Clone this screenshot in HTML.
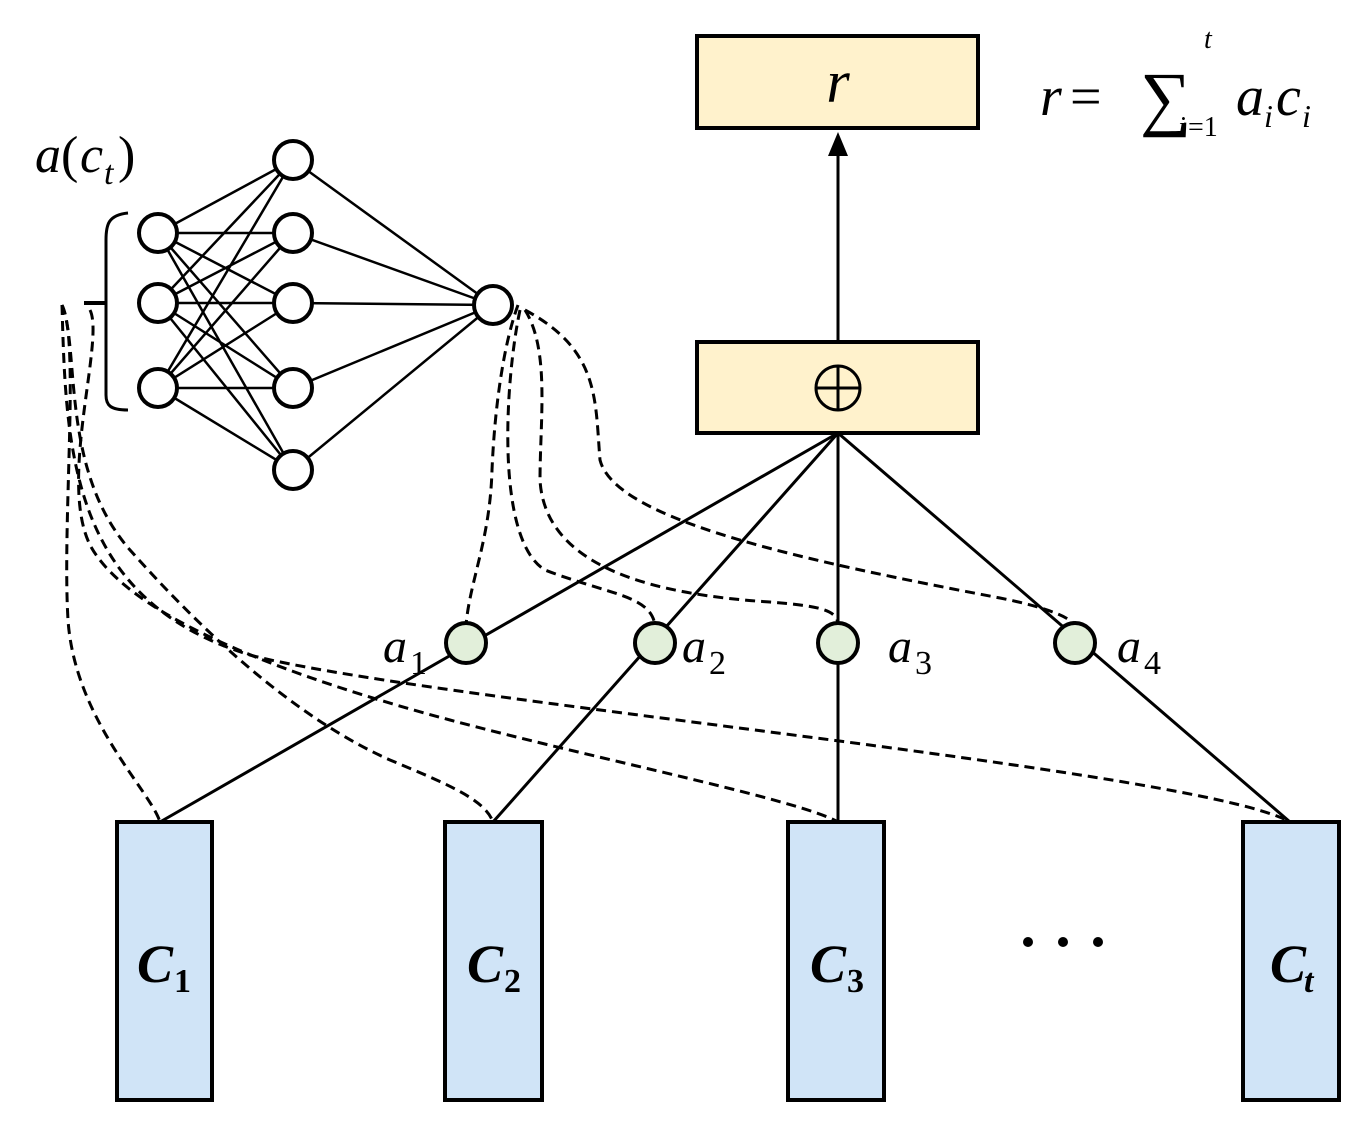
<!DOCTYPE html>
<html><head><meta charset="utf-8"><style>
html,body{margin:0;padding:0;background:#fff;}
svg{display:block;}
</style></head><body>
<svg width="1371" height="1131" viewBox="0 0 1371 1131" xmlns="http://www.w3.org/2000/svg" font-family="'Liberation Serif','DejaVu Serif',serif">
<!-- top boxes -->
<rect x="697" y="36" width="281" height="92" fill="#fff2cc" stroke="#000" stroke-width="4"/>
<text x="838" y="102" font-size="60" font-style="italic" text-anchor="middle">r</text>
<text x="1040" y="115" font-size="56" font-style="italic">r</text>
<text x="1070" y="115" font-size="56">=</text>
<text x="1140" y="122" font-size="72">∑</text>
<text x="1204" y="48" font-size="28" font-style="italic">t</text>
<text x="1178" y="136" font-size="28" font-style="italic">i</text><text x="1188" y="136" font-size="28">=1</text>
<text x="1236" y="115" font-size="56" font-style="italic">a</text><text x="1264" y="127" font-size="32" font-style="italic">i</text>
<text x="1276" y="115" font-size="56" font-style="italic">c</text><text x="1302" y="127" font-size="32" font-style="italic">i</text>
<rect x="697" y="342" width="281" height="91" fill="#fff2cc" stroke="#000" stroke-width="4"/>
<circle cx="838" cy="388" r="22" fill="none" stroke="#000" stroke-width="3"/>
<line x1="816" y1="388" x2="860" y2="388" stroke="#000" stroke-width="3"/>
<line x1="838" y1="366" x2="838" y2="410" stroke="#000" stroke-width="3"/>
<line x1="838" y1="340" x2="838" y2="150" stroke="#000" stroke-width="3"/>
<polygon points="838,132 828,156 848,156" fill="#000"/>
<!-- solid lines -->
<g stroke="#000" stroke-width="3" fill="none">
<line x1="838" y1="433" x2="160" y2="822"/>
<line x1="838" y1="433" x2="493" y2="822"/>
<line x1="838" y1="433" x2="838" y2="822"/>
<line x1="838" y1="433" x2="1290" y2="822"/>
</g>
<!-- dashed -->
<g stroke="#000" stroke-width="3" fill="none" stroke-dasharray="10,6">
<path d="M62,305 C 80,340 62,520 68,620 C 75,720 150,790 160,822"/>
<path d="M62,305 C 80,350 60,470 130,550 C 210,640 300,720 390,760 C 450,785 485,800 493,822"/>
<path d="M90,310 C 105,340 58,480 90,545 C 130,620 300,680 450,720 C 600,760 800,800 838,822"/>
<path d="M62,305 C 66,450 70,600 250,655 C 420,700 1200,770 1290,822"/>
<path d="M518,305 C 505,340 495,400 492,470 C 490,540 470,580 466,625"/>
<path d="M520,310 C 505,380 495,540 545,570 C 610,595 650,595 655,625"/>
<path d="M525,310 C 550,350 540,420 540,480 C 545,570 660,595 770,602 C 820,606 838,610 838,625"/>
<path d="M525,310 C 600,350 595,400 600,460 C 615,520 800,560 1000,598 C 1050,608 1070,618 1075,625"/>
</g>
<!-- a nodes -->
<g fill="#e2efda" stroke="#000" stroke-width="4">
<circle cx="466" cy="643" r="20"/><circle cx="655" cy="643" r="20"/>
<circle cx="838" cy="643" r="20"/><circle cx="1075" cy="643" r="20"/>
</g>
<g font-size="48">
<text x="383" y="662" font-style="italic">a</text><text x="410" y="674" font-size="34">1</text>
<text x="682" y="662" font-style="italic">a</text><text x="709" y="674" font-size="34">2</text>
<text x="888" y="662" font-style="italic">a</text><text x="915" y="674" font-size="34">3</text>
<text x="1117" y="662" font-style="italic">a</text><text x="1144" y="674" font-size="34">4</text>
</g>
<!-- C boxes -->
<g fill="#d0e4f7" stroke="#000" stroke-width="4">
<rect x="117" y="822" width="95" height="278"/><rect x="445" y="822" width="97" height="278"/>
<rect x="788" y="822" width="96" height="278"/><rect x="1243" y="822" width="96" height="278"/>
</g>
<g font-size="54" font-weight="bold">
<text x="137" y="982" font-style="italic">C</text><text x="174" y="992" font-size="34">1</text>
<text x="467" y="982" font-style="italic">C</text><text x="504" y="992" font-size="34">2</text>
<text x="810" y="982" font-style="italic">C</text><text x="847" y="992" font-size="34">3</text>
<text x="1270" y="982" font-style="italic">C</text><text x="1304" y="992" font-size="34" font-style="italic">t</text>
</g>
<g fill="#000"><circle cx="1028" cy="942" r="5"/><circle cx="1063" cy="942" r="5"/><circle cx="1098" cy="942" r="5"/></g>
<!-- NN -->
<g stroke="#000" stroke-width="2.5">
<line x1="158" y1="233" x2="293" y2="160"/><line x1="158" y1="233" x2="293" y2="233"/><line x1="158" y1="233" x2="293" y2="303"/><line x1="158" y1="233" x2="293" y2="388"/><line x1="158" y1="233" x2="293" y2="470"/>
<line x1="158" y1="303" x2="293" y2="160"/><line x1="158" y1="303" x2="293" y2="233"/><line x1="158" y1="303" x2="293" y2="303"/><line x1="158" y1="303" x2="293" y2="388"/><line x1="158" y1="303" x2="293" y2="470"/>
<line x1="158" y1="388" x2="293" y2="160"/><line x1="158" y1="388" x2="293" y2="233"/><line x1="158" y1="388" x2="293" y2="303"/><line x1="158" y1="388" x2="293" y2="388"/><line x1="158" y1="388" x2="293" y2="470"/>
<line x1="293" y1="160" x2="493" y2="305"/><line x1="293" y1="233" x2="493" y2="305"/><line x1="293" y1="303" x2="493" y2="305"/><line x1="293" y1="388" x2="493" y2="305"/><line x1="293" y1="470" x2="493" y2="305"/>
</g>
<g fill="#fff" stroke="#000" stroke-width="4">
<circle cx="158" cy="233" r="19"/><circle cx="158" cy="303" r="19"/><circle cx="158" cy="388" r="19"/>
<circle cx="293" cy="160" r="19"/><circle cx="293" cy="233" r="19"/><circle cx="293" cy="303" r="19"/><circle cx="293" cy="388" r="19"/><circle cx="293" cy="470" r="19"/>
<circle cx="493" cy="305" r="19"/>
</g>
<path d="M128,213 C 108,215 106,225 106,240 L106,395 C 106,405 110,410 128,410" fill="none" stroke="#000" stroke-width="3"/>
<line x1="84" y1="303" x2="106" y2="303" stroke="#000" stroke-width="4"/>
<text x="35" y="172" font-size="52" font-style="italic">a</text><text x="61" y="172" font-size="52">(</text>
<text x="80" y="172" font-size="52" font-style="italic">c</text><text x="104" y="184" font-size="34" font-style="italic">t</text>
<text x="118" y="172" font-size="52">)</text>
</svg>
</body></html>
